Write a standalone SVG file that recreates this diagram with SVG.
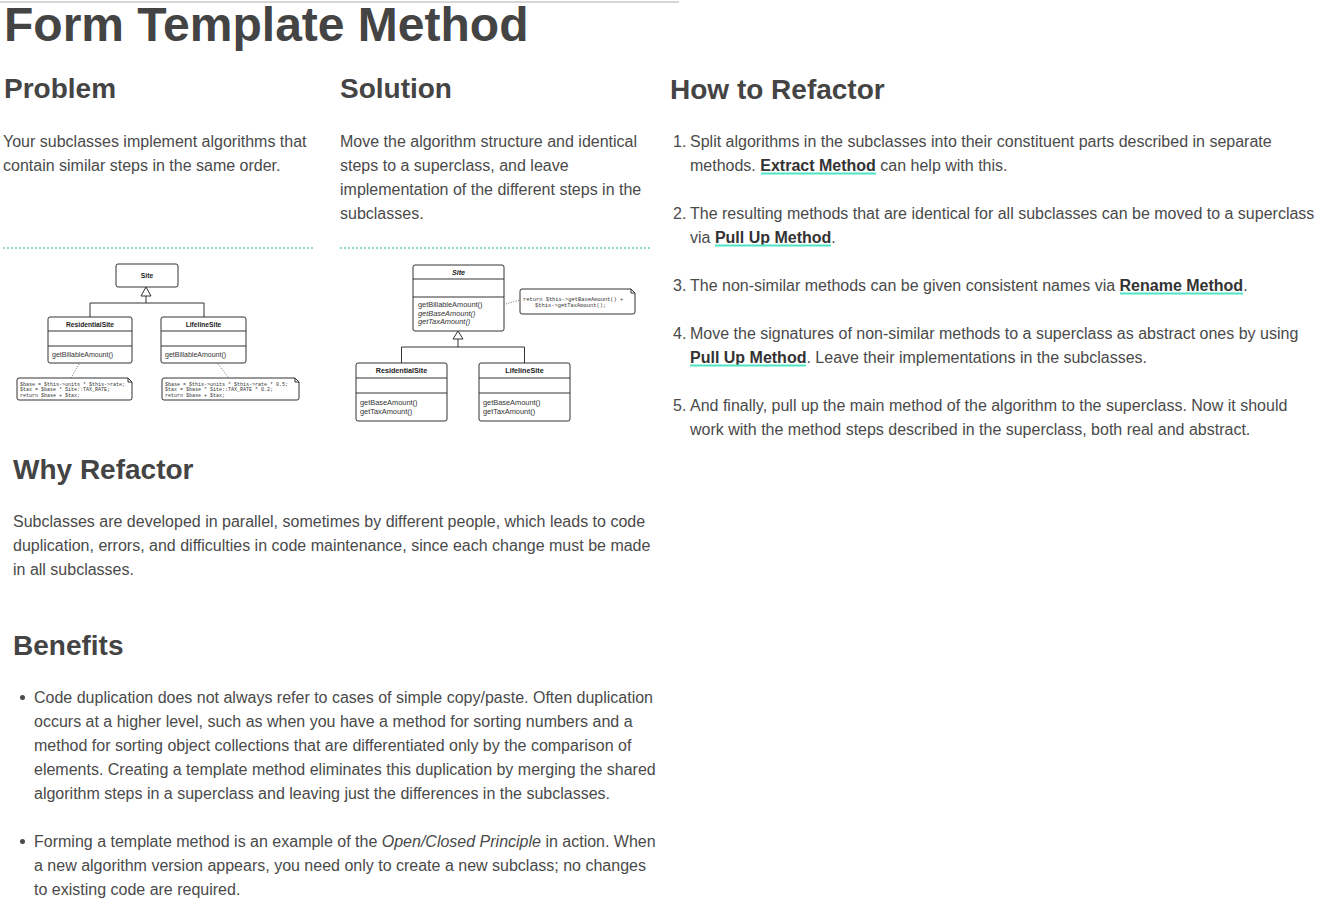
<svg xmlns="http://www.w3.org/2000/svg" width="1342" height="922" viewBox="0 0 1342 922">
<style>
.h1{font-family:"Liberation Sans",Arial,sans-serif;font-weight:bold;font-size:48px;fill:#444}
.h2{font-family:"Liberation Sans",Arial,sans-serif;font-weight:bold;font-size:28px;fill:#444}
.b{font-family:"Liberation Sans",Arial,sans-serif;font-size:16px;fill:#4a4a4a}
.lk{font-weight:bold;fill:#333}
.ul{stroke:#4fe3c6;stroke-width:2}
.sep{stroke:#8fdccb;stroke-width:2;stroke-dasharray:2 2}
.box{fill:#fff;stroke:#333;stroke-width:1}
.ln{stroke:#333;stroke-width:1;fill:none}
.dot{stroke:#777;stroke-width:1;stroke-dasharray:1 1.5;fill:none}
.cn{font-family:"Liberation Sans",Arial,sans-serif;font-weight:bold;font-size:6.7px;fill:#222;text-anchor:middle}
.mt{font-family:"Liberation Sans",Arial,sans-serif;font-size:7px;fill:#333}
.nt{font-family:"Liberation Mono","DejaVu Sans Mono",monospace;font-size:5px;fill:#333}
.s .cn{font-size:7.2px}
.s .mt{font-size:7.4px}
.s .nt{font-size:5.4px}
</style>
<rect width="1342" height="922" fill="#fff"/>
<line x1="0" y1="2" x2="679" y2="2" stroke="#c8c8c8" stroke-width="1.5"/>
<text class="h1" x="4" y="41">Form Template Method</text>

<text class="h2" x="4" y="98">Problem</text>
<text class="h2" x="340" y="98">Solution</text>
<text class="h2" x="670" y="99">How to Refactor</text>

<text class="b" x="3" y="147">Your subclasses implement algorithms that</text>
<text class="b" x="3" y="171">contain similar steps in the same order.</text>

<text class="b" x="340" y="147">Move the algorithm structure and identical</text>
<text class="b" x="340" y="171">steps to a superclass, and leave</text>
<text class="b" x="340" y="195">implementation of the different steps in the</text>
<text class="b" x="340" y="219">subclasses.</text>

<line class="sep" x1="3" y1="248" x2="313" y2="248"/>
<line class="sep" x1="340" y1="248" x2="650" y2="248"/>

<!-- How to refactor list -->
<text class="b" x="673" y="147">1.</text>
<text class="b" x="690" y="147">Split algorithms in the subclasses into their constituent parts described in separate</text>
<text class="b" x="690" y="171">methods. <tspan class="lk">Extract Method</tspan> can help with this.</text>
<line class="ul" x1="761" y1="173.5" x2="876" y2="173.5"/>

<text class="b" x="673" y="219">2.</text>
<text class="b" x="690" y="219">The resulting methods that are identical for all subclasses can be moved to a superclass</text>
<text class="b" x="690" y="243">via <tspan class="lk">Pull Up Method</tspan>.</text>
<line class="ul" x1="715" y1="245.5" x2="831" y2="245.5"/>

<text class="b" x="673" y="291">3.</text>
<text class="b" x="690" y="291">The non-similar methods can be given consistent names via <tspan class="lk">Rename Method</tspan>.</text>
<line class="ul" x1="1120" y1="293.5" x2="1243" y2="293.5"/>

<text class="b" x="673" y="339">4.</text>
<text class="b" x="690" y="339">Move the signatures of non-similar methods to a superclass as abstract ones by using</text>
<text class="b" x="690" y="363"><tspan class="lk">Pull Up Method</tspan>. Leave their implementations in the subclasses.</text>
<line class="ul" x1="690" y1="365.5" x2="806" y2="365.5"/>

<text class="b" x="673" y="411">5.</text>
<text class="b" x="690" y="411">And finally, pull up the main method of the algorithm to the superclass. Now it should</text>
<text class="b" x="690" y="435">work with the method steps described in the superclass, both real and abstract.</text>

<!-- Why Refactor -->
<text class="h2" x="13" y="479">Why Refactor</text>
<text class="b" x="13" y="527">Subclasses are developed in parallel, sometimes by different people, which leads to code</text>
<text class="b" x="13" y="551">duplication, errors, and difficulties in code maintenance, since each change must be made</text>
<text class="b" x="13" y="575">in all subclasses.</text>

<!-- Benefits -->
<text class="h2" x="13" y="655">Benefits</text>
<circle cx="22.5" cy="697.5" r="2.5" fill="#4a4a4a"/>
<text class="b" x="34" y="703">Code duplication does not always refer to cases of simple copy/paste. Often duplication</text>
<text class="b" x="34" y="727">occurs at a higher level, such as when you have a method for sorting numbers and a</text>
<text class="b" x="34" y="751">method for sorting object collections that are differentiated only by the comparison of</text>
<text class="b" x="34" y="775">elements. Creating a template method eliminates this duplication by merging the shared</text>
<text class="b" x="34" y="799">algorithm steps in a superclass and leaving just the differences in the subclasses.</text>
<circle cx="22.5" cy="841.5" r="2.5" fill="#4a4a4a"/>
<text class="b" x="34" y="847">Forming a template method is an example of the <tspan font-style="italic">Open/Closed Principle</tspan> in action. When</text>
<text class="b" x="34" y="871">a new algorithm version appears, you need only to create a new subclass; no changes</text>
<text class="b" x="34" y="895">to existing code are required.</text>

<!-- Problem diagram -->
<g id="problem-connectors">
  <polyline class="ln" points="146,296 146,303"/>
  <polyline class="ln" points="90,317 90,303 204,303 204,317"/>
  <polygon class="box" points="146,287 141,296 151,296"/>
  <line class="dot" x1="79" y1="364" x2="71" y2="378"/>
  <line class="dot" x1="218" y1="364" x2="229" y2="378"/>
</g>
<g id="p-site">
  <rect class="box" x="116" y="264" width="62" height="23" rx="2"/>
  <text class="cn" x="147" y="277.5">Site</text>
</g>
<g id="p-residential">
  <rect class="box" x="48" y="317" width="84" height="46" rx="2"/>
  <line class="ln" x1="48" y1="331" x2="132" y2="331"/>
  <line class="ln" x1="48" y1="346" x2="132" y2="346"/>
  <text class="cn" x="90" y="326.5">ResidentialSite</text>
  <text class="mt" x="52" y="357">getBillableAmount()</text>
</g>
<g id="p-lifeline">
  <rect class="box" x="161" y="317" width="85" height="46" rx="2"/>
  <line class="ln" x1="161" y1="331" x2="246" y2="331"/>
  <line class="ln" x1="161" y1="346" x2="246" y2="346"/>
  <text class="cn" x="203.5" y="326.5">LifelineSite</text>
  <text class="mt" x="165" y="357">getBillableAmount()</text>
</g>
<g id="p-note-res">
  <path class="box" d="M17,380 Q17,378 19,378 L128,378 L132,382 L132,398 Q132,400 130,400 L19,400 Q17,400 17,398 Z"/>
  <path class="ln" d="M128,378 L128,382 L132,382"/>
  <text class="nt" x="20" y="385.5">$base = $this-&gt;units * $this-&gt;rate;</text>
  <text class="nt" x="20" y="391">$tax = $base * Site::TAX_RATE;</text>
  <text class="nt" x="20" y="396.5">return $base + $tax;</text>
</g>
<g id="p-note-life">
  <path class="box" d="M162,380 Q162,378 164,378 L295,378 L299,382 L299,398 Q299,400 297,400 L164,400 Q162,400 162,398 Z"/>
  <path class="ln" d="M295,378 L295,382 L299,382"/>
  <text class="nt" x="165" y="385.5">$base = $this-&gt;units * $this-&gt;rate * 0.5;</text>
  <text class="nt" x="165" y="391">$tax = $base * Site::TAX_RATE * 0.2;</text>
  <text class="nt" x="165" y="396.5">return $base + $tax;</text>
</g>

<!-- Solution diagram -->
<g class="s">
<g id="solution-connectors">
  <polyline class="ln" points="458,339 458,347"/>
  <polyline class="ln" points="401.5,363 401.5,347 524.5,347 524.5,363"/>
  <polygon class="box" points="458,331 453,339 463,339"/>
  <line class="dot" x1="506" y1="304" x2="520" y2="300"/>
</g>
<g id="s-site">
  <rect class="box" x="413" y="265" width="91" height="66" rx="2"/>
  <line class="ln" x1="413" y1="279" x2="504" y2="279"/>
  <line class="ln" x1="413" y1="297" x2="504" y2="297"/>
  <text class="cn" x="458.5" y="274.5" font-style="italic">Site</text>
  <text class="mt" x="418" y="306.5">getBillableAmount()</text>
  <text class="mt" x="418" y="315.5" font-style="italic">getBaseAmount()</text>
  <text class="mt" x="418" y="324" font-style="italic">getTaxAmount()</text>
</g>
<g id="s-note">
  <path class="box" d="M520,291 Q520,289 522,289 L631,289 L635,293 L635,312 Q635,314 633,314 L522,314 Q520,314 520,312 Z"/>
  <path class="ln" d="M631,289 L631,293 L635,293"/>
  <text class="nt" x="523" y="300.5">return $this-&gt;getBaseAmount() +</text>
  <text class="nt" x="535" y="306.5">$this-&gt;getTaxAmount();</text>
</g>
<g id="s-residential">
  <rect class="box" x="356" y="363" width="91" height="58" rx="2"/>
  <line class="ln" x1="356" y1="378" x2="447" y2="378"/>
  <line class="ln" x1="356" y1="393" x2="447" y2="393"/>
  <text class="cn" x="401.5" y="373">ResidentialSite</text>
  <text class="mt" x="360" y="404.5">getBaseAmount()</text>
  <text class="mt" x="360" y="413.5">getTaxAmount()</text>
</g>
<g id="s-lifeline">
  <rect class="box" x="479" y="363" width="91" height="58" rx="2"/>
  <line class="ln" x1="479" y1="378" x2="570" y2="378"/>
  <line class="ln" x1="479" y1="393" x2="570" y2="393"/>
  <text class="cn" x="524.5" y="373">LifelineSite</text>
  <text class="mt" x="483" y="404.5">getBaseAmount()</text>
  <text class="mt" x="483" y="413.5">getTaxAmount()</text>
</g>
</g>
</svg>
